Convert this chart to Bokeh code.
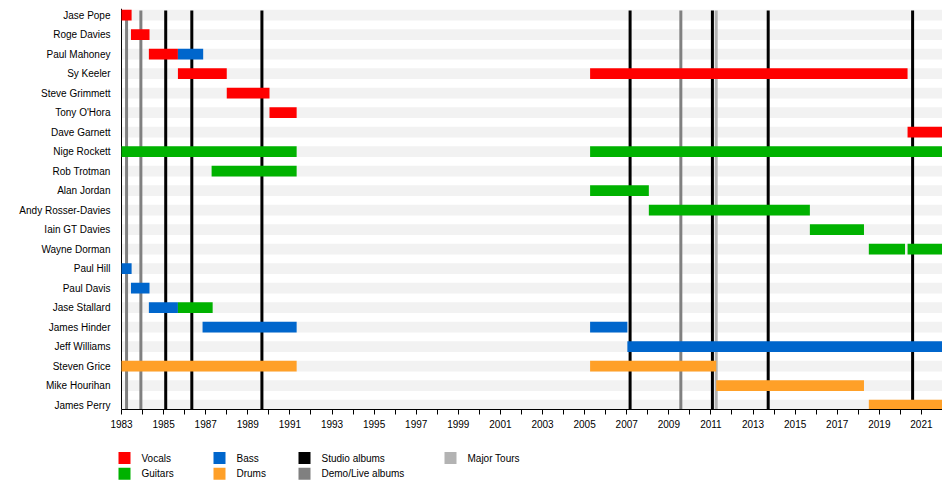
import numpy as np
from bokeh.plotting import figure
from bokeh.models import Range1d, FixedTicker, ColumnDataSource
from bokeh.layouts import column
from bokeh.core.properties import value
from bokeh.embed import file_html
from bokeh.resources import INLINE

FONT = "Liberation Sans"

members = ["Jase Pope", "Roge Davies", "Paul Mahoney", "Sy Keeler", "Steve Grimmett",
           "Tony O'Hora", "Dave Garnett", "Nige Rockett", "Rob Trotman", "Alan Jordan",
           "Andy Rosser-Davies", "Iain GT Davies", "Wayne Dorman", "Paul Hill", "Paul Davis",
           "Jase Stallard", "James Hinder", "Jeff Williams", "Steven Grice", "Mike Hourihan",
           "James Perry"]

# one entry per stint in the band
stint_member = ["Jase Pope", "Roge Davies", "Paul Mahoney", "Paul Mahoney", "Sy Keeler",
                "Sy Keeler", "Steve Grimmett", "Tony O'Hora", "Dave Garnett", "Nige Rockett",
                "Nige Rockett", "Rob Trotman", "Alan Jordan", "Andy Rosser-Davies",
                "Iain GT Davies", "Wayne Dorman", "Wayne Dorman", "Paul Hill", "Paul Davis",
                "Jase Stallard", "Jase Stallard", "James Hinder", "James Hinder",
                "Jeff Williams", "Steven Grice", "Steven Grice", "Mike Hourihan", "James Perry"]
stint_role = ["Vocals", "Vocals", "Vocals", "Bass", "Vocals",
              "Vocals", "Vocals", "Vocals", "Vocals", "Guitars",
              "Guitars", "Guitars", "Guitars", "Guitars",
              "Guitars", "Guitars", "Guitars", "Bass", "Bass",
              "Bass", "Guitars", "Bass", "Bass",
              "Bass", "Drums", "Drums", "Drums", "Drums"]
stint_start = [1983.0, 1983.45, 1984.3, 1985.68, 1985.68,
               2005.26, 1988.0, 1990.03, 2020.34, 1983.0,
               2005.26, 1987.28, 2005.26, 2008.05,
               2015.7, 2018.5, 2020.34, 1983.0, 1983.45,
               1984.3, 1985.68, 1986.85, 2005.26,
               2007.03, 1983.0, 2005.26, 2011.25, 2018.5]
stint_end = [1983.48, 1984.33, 1985.68, 1986.88, 1988.0,
             2020.34, 1990.03, 1991.32, 2022.0, 1991.32,
             2022.0, 1991.32, 2008.05, 2015.7,
             2018.27, 2020.22, 2022.0, 1983.48, 1984.33,
             1985.68, 1987.33, 1991.32, 2007.03,
             2022.0, 1991.32, 2011.25, 2018.27, 2022.0]

studio_albums = [1985.1, 1986.34, 1989.67, 2007.16, 2011.07, 2013.72, 2020.58]
demo_live_albums = [1983.24, 1983.92, 2009.57]
major_tours = [2011.25]

role_colors = {"Vocals": "#ff0000", "Guitars": "#00b200", "Bass": "#0066cc", "Drums": "#ffa028"}
event_colors = {"Studio albums": "#000000", "Demo/Live albums": "#808080", "Major Tours": "#b3b3b3"}

year_start, year_end = 1983, 2022
px_per_year = 21.04
left_pad = 9  # frame starts a little before 1983 so the legend below is not clipped

p = figure(width=942, height=433, output_backend="svg", toolbar_location=None,
           x_range=Range1d(year_start - left_pad / px_per_year, year_end),
           y_range=Range1d(20.22, -0.34),
           min_border_left=112, min_border_right=0, min_border_top=8, min_border_bottom=24)
p.outline_line_color = None
p.xgrid.visible = False
p.ygrid.visible = False

rows = list(range(len(members)))
bottom = 20.22

# light stripes behind every row
p.hbar(y=rows, left=year_start, right=year_end, height=0.55, fill_color="#f2f2f2", line_color=None)

# left axis line at the first year
p.segment(x0=[year_start], x1=[year_start], y0=[-0.34], y1=[bottom], line_color="black", line_width=1)

# album / tour markers
for name, years in [("Demo/Live albums", demo_live_albums), ("Studio albums", studio_albums),
                    ("Major Tours", major_tours)]:
    p.segment(x0=years, x1=years, y0=[-0.24] * len(years), y1=[bottom] * len(years),
              line_color=event_colors[name], line_width=3)

src = ColumnDataSource(dict(
    y=[members.index(m) for m in stint_member],
    left=stint_start,
    right=stint_end,
    color=[role_colors[r] for r in stint_role],
))
p.hbar(y="y", left="left", right="right", height=0.55, fill_color="color", line_color=None, source=src)

years = list(range(year_start, year_end + 1))
p.xaxis.ticker = FixedTicker(ticks=years)
p.xaxis.bounds = (year_start, year_end)
p.xaxis.major_label_overrides = {y: (str(y) if y % 2 == 1 else "") for y in years}
p.xaxis.minor_tick_line_color = None
p.xaxis.major_tick_in = 0
p.xaxis.major_tick_out = 5
p.xaxis.major_label_standoff = 5
p.xaxis.axis_line_color = "black"
p.yaxis.ticker = FixedTicker(ticks=rows)
p.yaxis.major_label_overrides = {i: m for i, m in enumerate(members)}
p.yaxis.major_tick_line_color = None
p.yaxis.minor_tick_line_color = None
p.yaxis.major_tick_in = 0
p.yaxis.major_tick_out = 0
p.yaxis.axis_line_color = None
p.yaxis.major_label_standoff = 2
for ax in (p.xaxis, p.yaxis):
    ax.major_label_text_font = FONT
    ax.major_label_text_font_size = "10px"
    ax.major_label_text_color = "black"

# legend strip below the chart, coordinates in page pixels
lg = figure(width=942, height=56, output_backend="svg", toolbar_location=None,
            x_range=Range1d(112, 942), y_range=Range1d(489, 433),
            min_border_left=0, min_border_right=0, min_border_top=0, min_border_bottom=0)
lg.axis.visible = False
lg.grid.visible = False
lg.outline_line_color = None

legend_labels = ["Vocals", "Guitars", "Bass", "Drums", "Studio albums", "Demo/Live albums", "Major Tours"]
legend_colors = [role_colors["Vocals"], role_colors["Guitars"], role_colors["Bass"], role_colors["Drums"],
                 event_colors["Studio albums"], event_colors["Demo/Live albums"], event_colors["Major Tours"]]
col_x = [118, 118, 213, 213, 298, 298, 444]
row_y = [457.5, 473.3, 457.5, 473.3, 457.5, 473.3, 457.5]
cx = np.array(col_x, dtype=float)
cy = np.array(row_y, dtype=float)
lg.quad(left=cx, right=cx + 12, top=cy - 6, bottom=cy + 6, fill_color=legend_colors, line_color=None)
lg.text(x=cx + 23, y=cy, text=legend_labels, text_baseline="middle", text_align="left",
        text_font=value(FONT), text_font_size="10px", text_color="black")

layout = column(p, lg, spacing=0)
open("out.html", "w").write(file_html(layout, INLINE))
